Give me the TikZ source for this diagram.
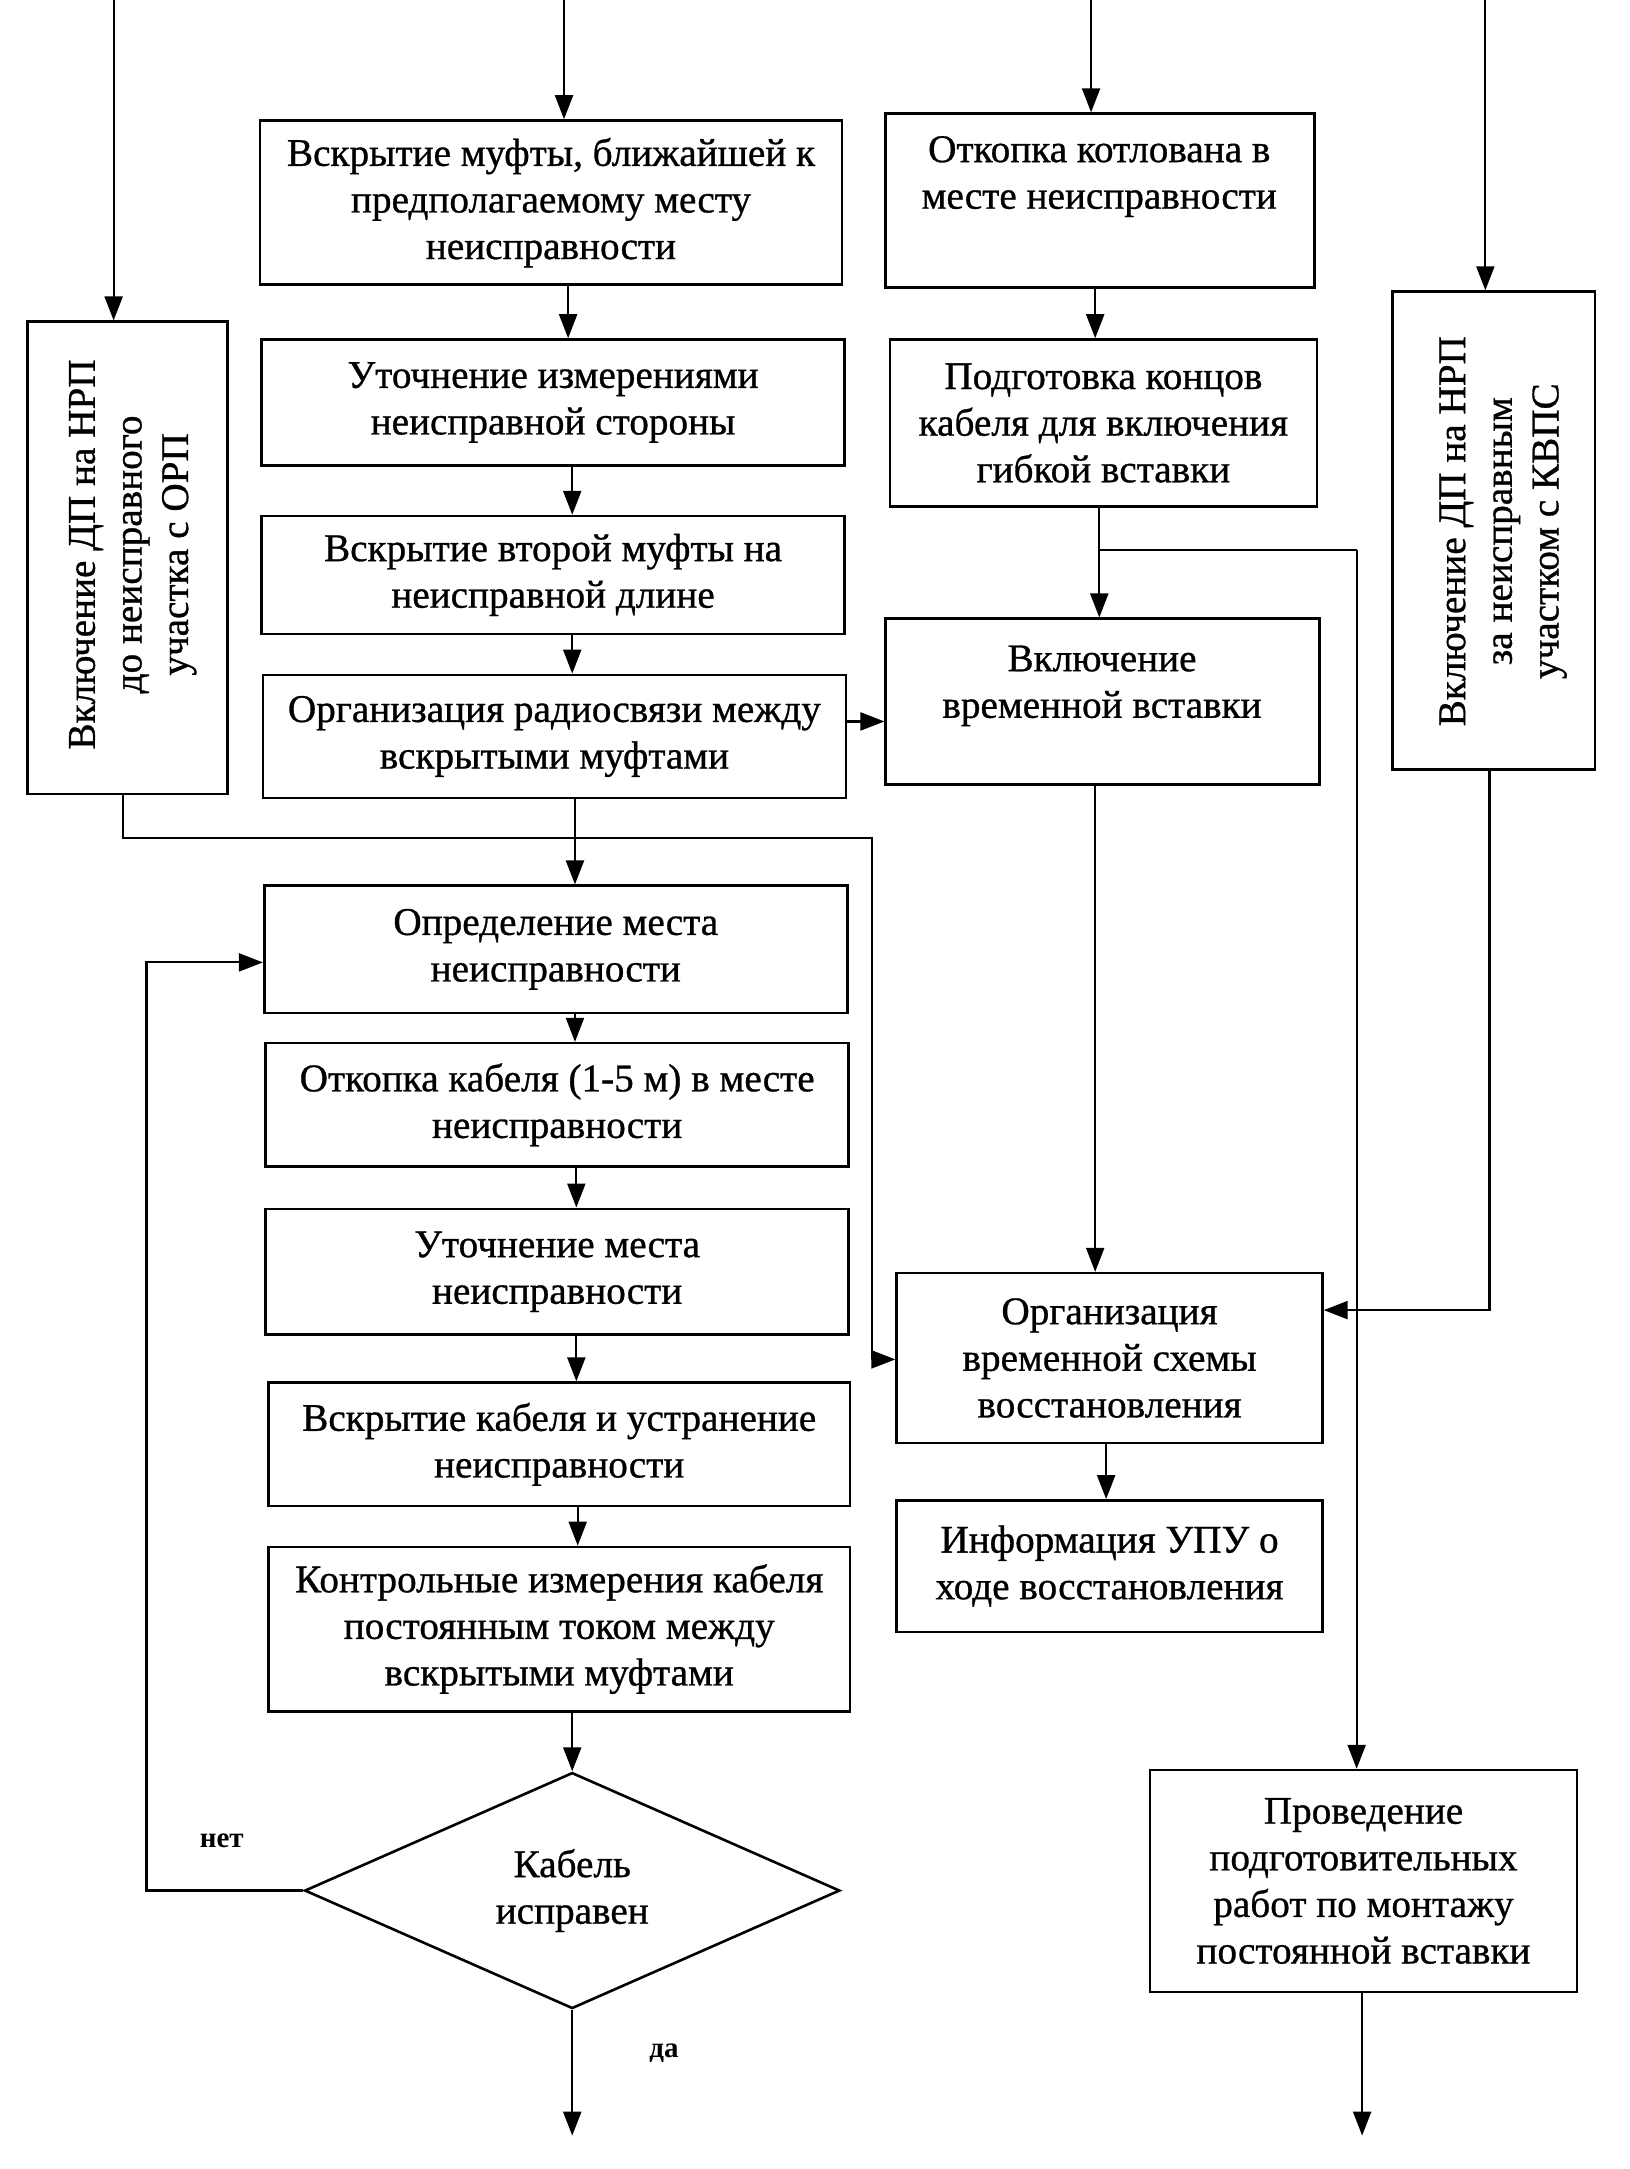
\documentclass[tikz,border=0pt]{standalone}
\usepackage{fontspec}
\setmainfont{Liberation Serif}[BoldFont={Liberation Serif}, BoldFeatures={FakeBold=0.8}]
\newfontfamily\lblfont{Liberation Serif}
\usetikzlibrary{arrows.meta,shapes.geometric}
\newcommand{\mybox}[6]{%
  \pgfmathsetmacro\myBW{(#4-#2)*0.6845}%
  \pgfmathsetmacro\myBH{(#5-#3)*0.6845}%
  \node[boxst, minimum width=\myBW pt, minimum height=\myBH pt] (#1) at ({(#2+#4)/2},{(#3+#5)/2}) {#6};}
\begin{document}
\begin{tikzpicture}[x=0.6845pt,y=-0.6845pt,
  boxst/.style={draw, line width=1.3pt, rectangle, inner sep=0pt, align=center,
     font=\fontsize{19.6}{23.3}\selectfont\bfseries},
  txtst/.style={inner sep=0pt, align=center, font=\fontsize{19.6}{23.3}\selectfont\bfseries},
  lbl/.style={inner sep=0pt, font=\fontsize{14.5}{16}\selectfont\lblfont\bfseries},
  arr/.style={line width=1.1pt, -{Triangle[length=12pt,width=9pt]}},
  ln/.style={line width=1.1pt}]
\useasboundingbox (0,0) rectangle (1190,1584.4);

% boxes
\mybox{orp}{20}{235}{166}{580}{}
\node[txtst, rotate=90] (orpt) at (97,405) {Включение ДП на НРП\\до неисправного\\участка с ОРП};
\mybox{b1}{190}{88}{615}{208}{Вскрытие муфты, ближайшей к\\предполагаемому месту\\неисправности}
\mybox{b2}{191}{248}{617}{340}{Уточнение измерениями\\неисправной стороны}
\mybox{b3}{191}{377}{617}{463}{Вскрытие второй муфты на\\неисправной длине}
\mybox{b4}{192}{493}{618}{583}{Организация радиосвязи между\\вскрытыми муфтами}
\mybox{kot}{647}{83}{960}{210}{}
\node[txtst] (kott) at (803,129) {Откопка котлована в\\месте неисправности};
\mybox{podg}{650}{248}{962}{370}{Подготовка концов\\кабеля для включения\\гибкой вставки}
\mybox{vkl}{647}{452}{964}{573}{}
\node[txtst] (vklt) at (805,501) {Включение\\временной вставки};
\mybox{kvps}{1017}{213}{1165}{562}{}
\node[txtst, rotate=90] (kvpst) at (1098,388) {Включение ДП на НРП\\за неисправным\\участком с КВПС};
\mybox{opr}{193}{647}{619}{740}{Определение места\\неисправности}
\mybox{otk}{194}{762}{620}{852}{Откопка кабеля (1-5 м) в месте\\неисправности}
\mybox{utoch}{194}{883}{620}{975}{Уточнение места\\неисправности}
\mybox{vskr}{196}{1010}{621}{1100}{Вскрытие кабеля и устранение\\неисправности}
\mybox{kontr}{196}{1130}{621}{1250}{Контрольные измерения кабеля\\постоянным током между\\вскрытыми муфтами}
\mybox{org}{655}{930}{966}{1054}{Организация\\временной схемы\\восстановления}
\mybox{inf}{655}{1096}{966}{1192}{Информация УПУ о\\ходе восстановления}
\mybox{prov}{840}{1293}{1152}{1455}{Проведение\\подготовительных\\работ по монтажу\\постоянной вставки}
\node[draw, line width=1.3pt, shape=diamond, inner sep=0pt, align=center,
  minimum width=267.6pt, minimum height=93.8pt,
  font=\fontsize{19.6}{23.3}\selectfont\bfseries] (dia) at (418,1381) {Кабель\\исправен};

\node[lbl] (net) at (162,1345) {нет};
\node[lbl] (da) at (485,1500) {да};

% helper coordinates
\coordinate (t1) at (83,0);
\coordinate (t2) at (412,0);
\coordinate (t3) at (797,0);
\coordinate (t4) at (1085,0);
\coordinate (x415) at (415,0);
\coordinate (x418) at (418,0);
\coordinate (x420) at (420,0);
\coordinate (x421) at (421,0);
\coordinate (x422) at (422,0);
\coordinate (x800) at (800,0);
\coordinate (x803) at (803,0);
\coordinate (x808) at (808,0);
\coordinate (x991) at (991,0);
\coordinate (x995) at (995,0);
\coordinate (x90) at (90,0);
\coordinate (x1088) at (1088,0);
\coordinate (h527) at (0,527);
\coordinate (h993) at (0,993);
\coordinate (h957) at (0,957);
\coordinate (h703) at (0,703);
\coordinate (jA) at (803,402);
\coordinate (jB) at (991,402);
\coordinate (jC) at (90,612);
\coordinate (jD) at (637,612);
\coordinate (jE) at (637,993);
\coordinate (jF) at (1088,957);
\coordinate (jG) at (107,1381);
\coordinate (jH) at (107,703);
\coordinate (e1) at (418,1560);
\coordinate (e2) at (995,1560);

% top arrows
\draw[arr] (t1) -- (orp.north -| t1);
\draw[arr] (t2) -- (b1.north -| t2);
\draw[arr] (t3) -- (kot.north -| t3);
\draw[arr] (t4) -- (kvps.north -| t4);

% left column
\draw[arr] (b1.south -| x415) -- (b2.north -| x415);
\draw[arr] (b2.south -| x418) -- (b3.north -| x418);
\draw[arr] (b3.south -| x418) -- (b4.north -| x418);
\draw[arr] (b4.south -| x420) -- (opr.north -| x420);
\draw[arr] (opr.south -| x420) -- (otk.north -| x420);
\draw[arr] (otk.south -| x421) -- (utoch.north -| x421);
\draw[arr] (utoch.south -| x421) -- (vskr.north -| x421);
\draw[arr] (vskr.south -| x422) -- (kontr.north -| x422);
\draw[arr] (kontr.south -| x418) -- (dia.north);
\draw[arr] (dia.south) -- (e1);
\draw[arr] (dia.west) -- (jG) -- (jH) -- (opr.west |- h703);

% radio -> temporary insert
\draw[arr] (b4.east |- h527) -- (vkl.west |- h527);

% ORP branch
\draw[arr] (orp.south -| x90) -- (jC) -- (jD) -- (jE) -- (org.west |- h993);

% right column
\draw[arr] (kot.south -| x800) -- (podg.north -| x800);
\draw[arr] (podg.south -| x803) -- (vkl.north -| x803);
\draw[ln] (jA) -- (jB);
\draw[arr] (jB) -- (prov.north -| x991);
\draw[arr] (vkl.south -| x800) -- (org.north -| x800);
\draw[arr] (org.south -| x808) -- (inf.north -| x808);
\draw[arr] (prov.south -| x995) -- (e2);
\draw[arr] (kvps.south -| x1088) -- (jF) -- (org.east |- h957);
\end{tikzpicture}
\end{document}
